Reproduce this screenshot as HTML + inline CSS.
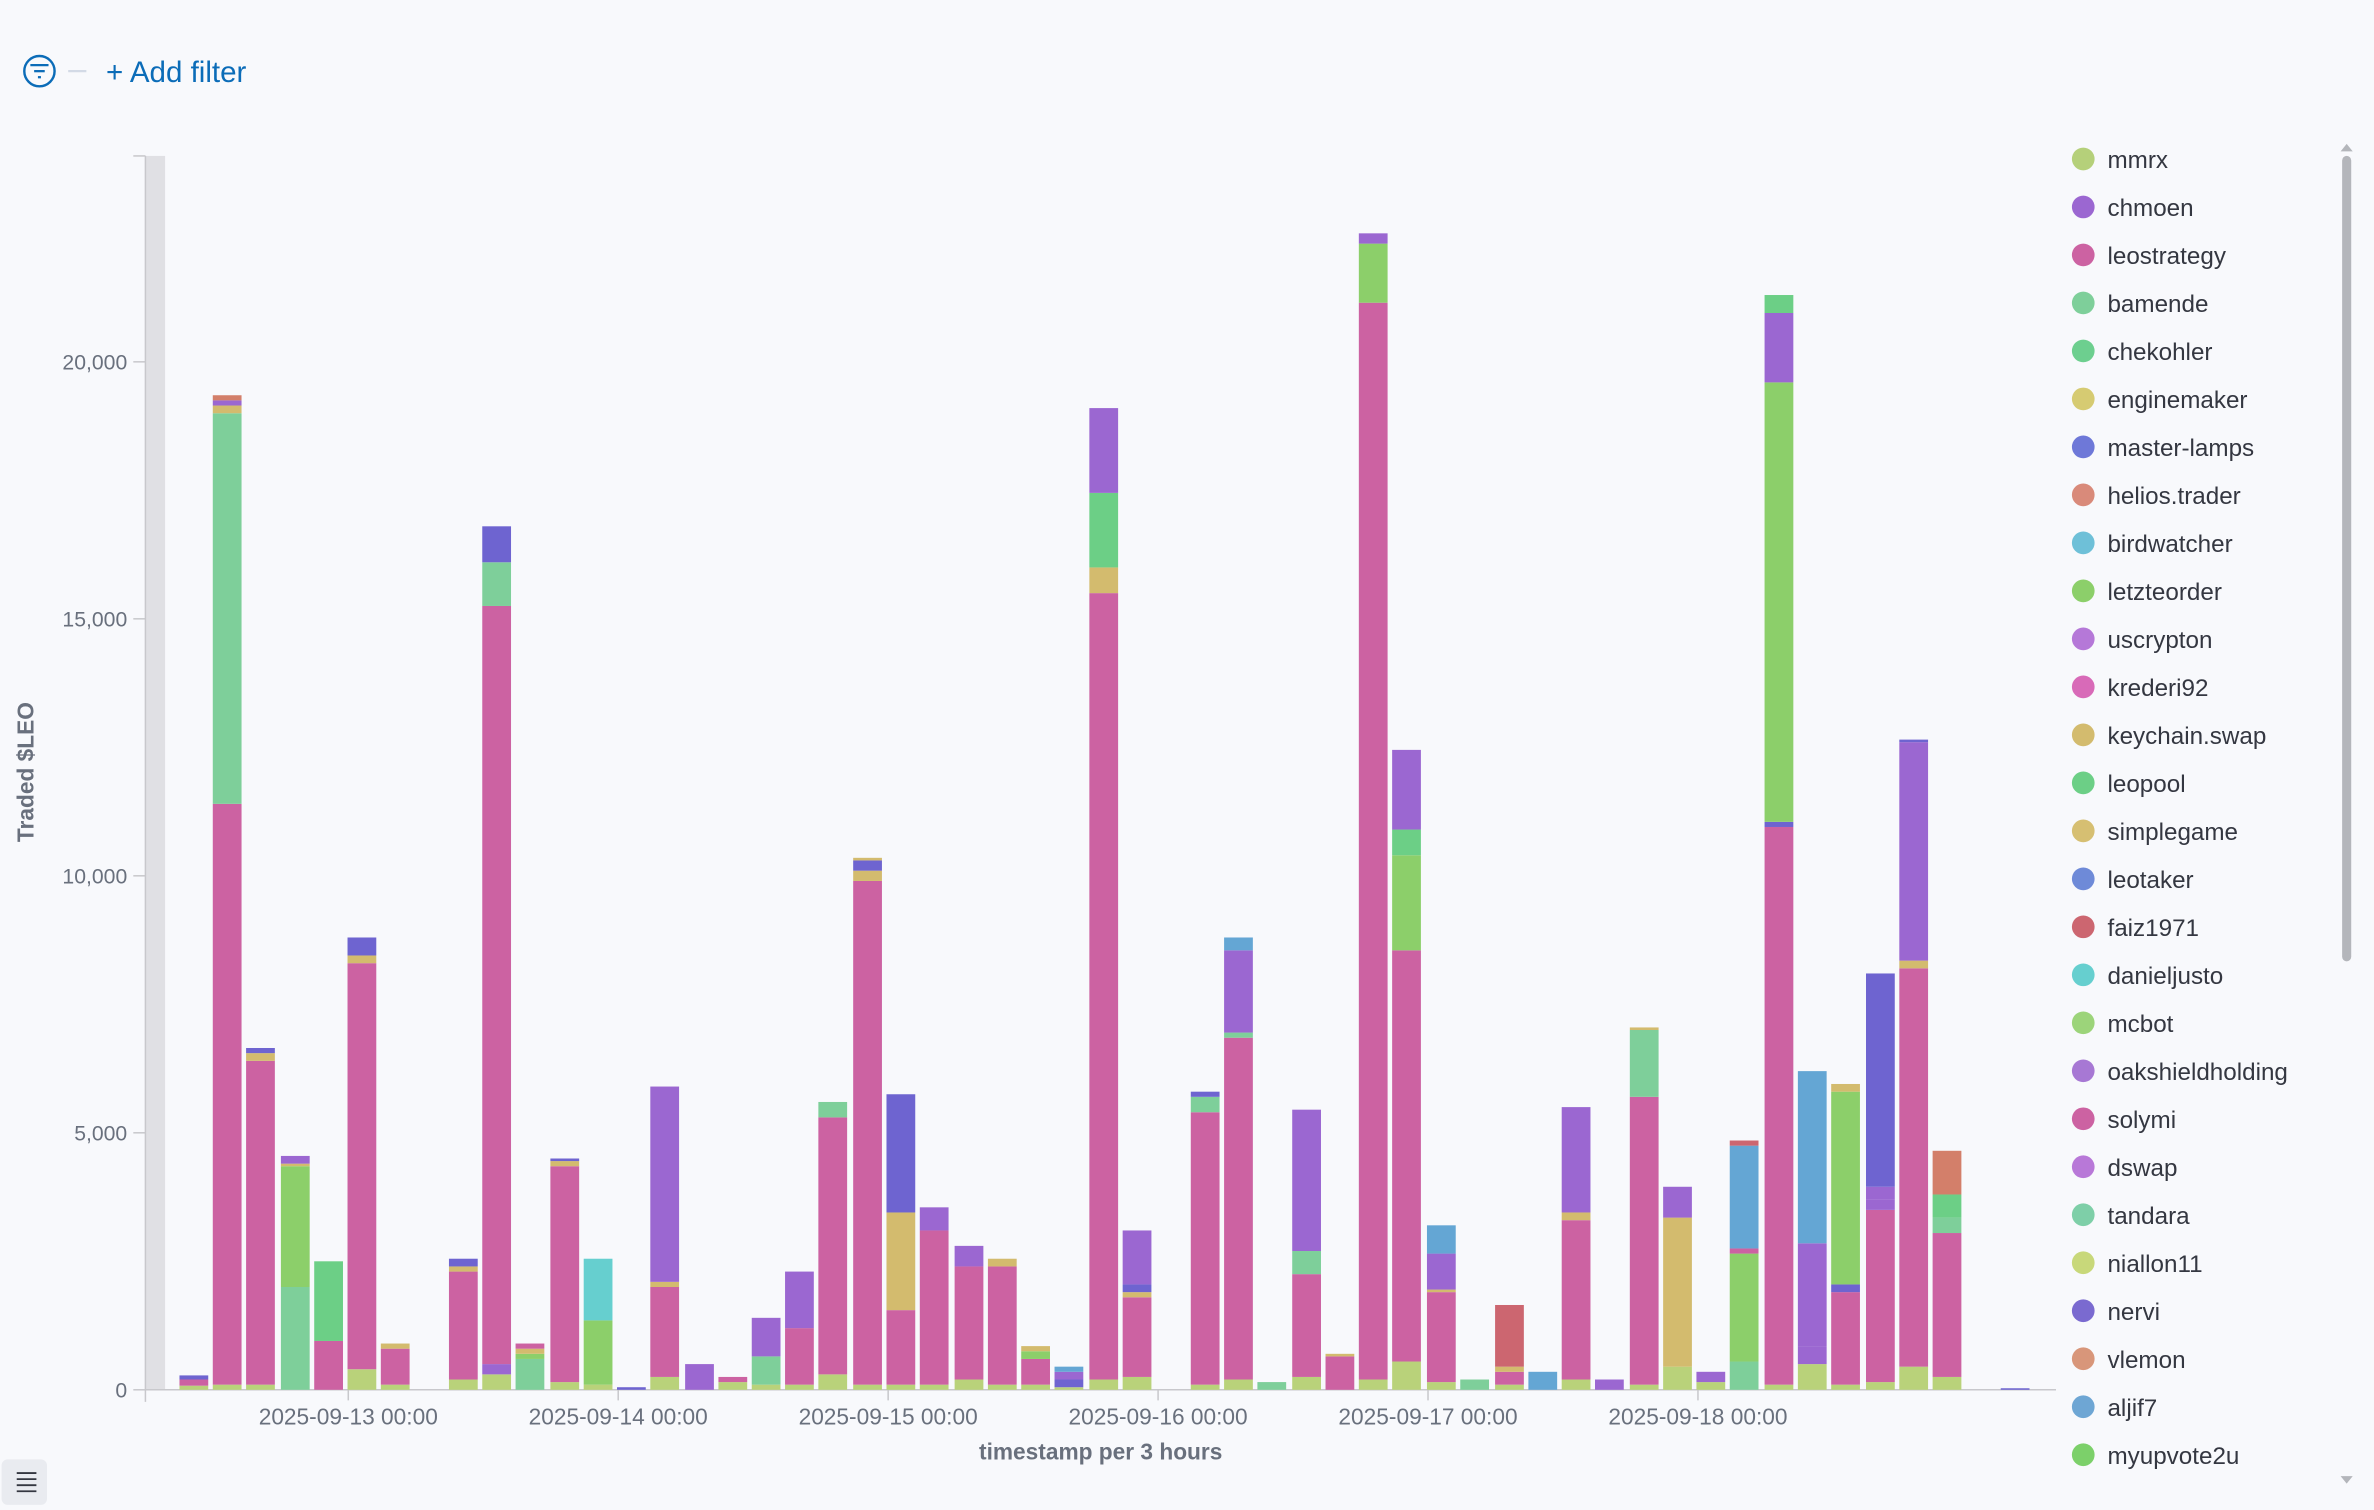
<!DOCTYPE html>
<html><head><meta charset="utf-8"><style>
html,body{margin:0;padding:0;background:#f8f9fc;}
svg{display:block;font-family:"Liberation Sans",sans-serif;}
</style></head><body>
<svg id="s" width="2374" height="1510" viewBox="0 0 1568 997.4" xmlns="http://www.w3.org/2000/svg">
<rect width="1568" height="998" fill="#f8f9fc"/>
<circle cx="26" cy="47" r="10" fill="none" stroke="#0b6cb8" stroke-width="1.6"/>
<line x1="20" y1="43" x2="32" y2="43" stroke="#0b6cb8" stroke-width="1.5"/>
<line x1="22.5" y1="47" x2="29.5" y2="47" stroke="#0b6cb8" stroke-width="1.5"/>
<line x1="25" y1="51" x2="27" y2="51" stroke="#0b6cb8" stroke-width="1.5"/>
<line x1="45" y1="47" x2="57" y2="47" stroke="#d3dae6" stroke-width="1.5"/>
<text x="70" y="54" font-size="19.5" fill="#0b6cb8">+ Add filter</text>
<rect x="96" y="103" width="13" height="815" fill="#e0e0e4"/>
<line x1="96" y1="103" x2="96" y2="926" stroke="#c8c8cc"/>
<line x1="88" y1="103" x2="96" y2="103" stroke="#c8c8cc"/>
<line x1="96" y1="918" x2="1358" y2="918" stroke="#c8c8cc"/>
<g id="yt" font-size="14" fill="#69707d" text-anchor="end"></g>
<g id="xt" font-size="15" fill="#69707d" text-anchor="middle"></g>
<g id="bars"></g>
<text transform="translate(22,510) rotate(-90)" font-size="15" font-weight="bold" fill="#69707d" text-anchor="middle">Traded $LEO</text>
<text x="727" y="964" font-size="15" font-weight="bold" fill="#69707d" text-anchor="middle">timestamp per 3 hours</text>
<g id="lg" font-size="16" fill="#343741"></g>
<rect x="1547" y="103" width="6" height="532" rx="3" fill="#b4b6bb"/>
<path d="M1546 100 L1550 95 L1554 100Z M1546 975 L1550 980 L1554 975Z" fill="#b4b6bb"/>
<rect x="1" y="964" width="30" height="30" rx="4" fill="#e9ebf0"/>
<g stroke="#343741" stroke-width="1.2"><line x1="11" y1="973" x2="24" y2="973"/><line x1="11" y1="977" x2="24" y2="977"/><line x1="11" y1="981" x2="24" y2="981"/><line x1="11" y1="985" x2="24" y2="985"/></g>
</svg>
<script>
const NS="http://www.w3.org/2000/svg";
function el(p,t,a,txt){const e=document.createElementNS(NS,t);for(const k in a)e.setAttribute(k,a[k]);if(txt)e.textContent=txt;document.getElementById(p).appendChild(e);}
const Y=v=>918-v*0.03395;
[[0,"0"],[5000,"5,000"],[10000,"10,000"],[15000,"15,000"],[20000,"20,000"]].forEach(([v,t])=>{el("yt","text",{x:84,y:Y(v)+5},t);el("yt","line",{x1:88,x2:96,y1:Y(v),y2:Y(v),stroke:"#c8c8cc"});});
["2025-09-13 00:00","2025-09-14 00:00","2025-09-15 00:00","2025-09-16 00:00","2025-09-17 00:00","2025-09-18 00:00"].forEach((t,i)=>{const x=230+i*178.3;el("xt","text",{x:x,y:941},t);el("xt","line",{x1:x,x2:x,y1:918,y2:925,stroke:"#c8c8cc"});});
const L='#b9d27a',P='#cc62a2',G='#7ecf9a',V='#9b67d1',B='#6e64d0',O='#d3bb6e',N='#8ccf6a',C='#66cfcf',S='#64a6d4',R='#cc6670',T='#d37f6a',G2='#6ccf86';
const D=[
[128,[[L,80],[P,200],[B,280]]],
[150,[[L,100],[P,11400],[G,19000],[O,19150],[V,19250],[T,19350]]],
[172,[[L,100],[P,6400],[O,6550],[B,6650]]],
[195,[[G,2000],[N,4350],[O,4400],[V,4550]]],
[217,[[P,950],[G2,2500]]],
[239,[[L,400],[P,8300],[O,8450],[B,8800]]],
[261,[[L,100],[P,800],[O,900]]],
[306,[[L,200],[P,2300],[O,2400],[B,2550]]],
[328,[[L,300],[V,500],[P,15250],[G,16100],[B,16800]]],
[350,[[G,600],[N,700],[O,800],[P,900]]],
[373,[[L,150],[P,4350],[O,4450],[B,4500]]],
[395,[[L,100],[N,1350],[C,2550]]],
[417,[[B,50]]],
[439,[[L,250],[P,2000],[O,2100],[V,5900]]],
[462,[[V,500]]],
[484,[[L,150],[P,250]]],
[506,[[L,100],[G,650],[V,1400]]],
[528,[[L,100],[P,1200],[V,2300]]],
[550,[[L,300],[P,5300],[G,5600]]],
[573,[[L,100],[P,9900],[O,10100],[B,10300],[O,10350]]],
[595,[[L,100],[P,1550],[O,3450],[B,5750]]],
[617,[[L,100],[P,3100],[V,3550]]],
[640,[[L,200],[P,2400],[V,2800]]],
[662,[[L,100],[P,2400],[O,2550]]],
[684,[[L,100],[P,600],[N,750],[O,850]]],
[706,[[L,50],[B,200],[V,350],[S,450]]],
[729,[[L,200],[P,15500],[O,16000],[G2,17450],[V,19100]]],
[751,[[L,250],[P,1800],[O,1900],[B,2050],[V,3100]]],
[796,[[L,100],[P,5400],[G,5700],[B,5800]]],
[818,[[L,200],[P,6850],[G,6950],[V,8550],[S,8800]]],
[840,[[G,150]]],
[863,[[L,250],[P,2250],[G,2700],[V,5450]]],
[885,[[P,650],[O,700]]],
[907,[[L,200],[P,21150],[N,22300],[V,22500]]],
[929,[[L,550],[P,8550],[N,10400],[G2,10900],[V,12450]]],
[952,[[L,150],[P,1900],[O,1950],[V,2650],[S,3200]]],
[974,[[G,200]]],
[997,[[L,100],[P,350],[O,450],[R,1650]]],
[1019,[[S,350]]],
[1041,[[L,200],[P,3300],[O,3450],[V,5500]]],
[1063,[[V,200]]],
[1086,[[L,100],[P,5700],[G,7000],[O,7050]]],
[1108,[[L,450],[O,3350],[V,3950]]],
[1130,[[L,150],[V,350]]],
[1152,[[G,550],[N,2650],[P,2750],[S,4750],[R,4850]]],
[1175,[[L,100],[P,10950],[B,11050],[N,19600],[V,20950],[G2,21300]]],
[1197,[[L,500],[V,850],[V,2850],[S,6200]]],
[1219,[[L,100],[P,1900],[B,2050],[N,5800],[O,5950]]],
[1242,[[L,150],[P,3500],[V,3700],[V,3950],[B,8100]]],
[1264,[[L,450],[P,8200],[O,8350],[V,12600],[B,12650]]],
[1286,[[L,250],[P,3050],[G,3350],[G2,3800],[T,4650]]],
[1331,[[B,30]]]];
D.forEach(([x,st])=>{let prev=0;st.forEach(([c,top])=>{const y1=Y(top),y0=Y(prev);el("bars","rect",{x:x-9.5,y:y1,width:19,height:Math.max(y0-y1,0.8),fill:c});prev=top;});});
const LG=[["mmrx",'#b5d07a'],["chmoen",'#9b67d1'],["leostrategy",'#cc62a2'],["bamende",'#7ecf9a'],["chekohler",'#6dcf8f'],["enginemaker",'#d6cb72'],["master-lamps",'#6e78d8'],["helios.trader",'#d98a7a'],["birdwatcher",'#6ec0d8'],["letzteorder",'#8ccf6a'],["uscrypton",'#b578d8'],["krederi92",'#d86ab8'],["keychain.swap",'#d3bb6e'],["leopool",'#6ccf86'],["simplegame",'#d6bf72'],["leotaker",'#6e8ad8'],["faiz1971",'#cc6670'],["danieljusto",'#66cfcf'],["mcbot",'#9cd47a'],["oakshieldholding",'#a778d4'],["solymi",'#cc62a2'],["dswap",'#b878d8'],["tandara",'#7ecfa8'],["niallon11",'#c8d87a'],["nervi",'#7a6ad0'],["vlemon",'#d8967a'],["aljif7",'#6ea6d4'],["myupvote2u",'#7cd06a']];
LG.forEach(([t,c],i)=>{const y=105+i*31.7;el("lg","circle",{cx:1376,cy:y,r:7.5,fill:c});el("lg","text",{x:1392,y:y+6},t);});
</script>
</body></html>
